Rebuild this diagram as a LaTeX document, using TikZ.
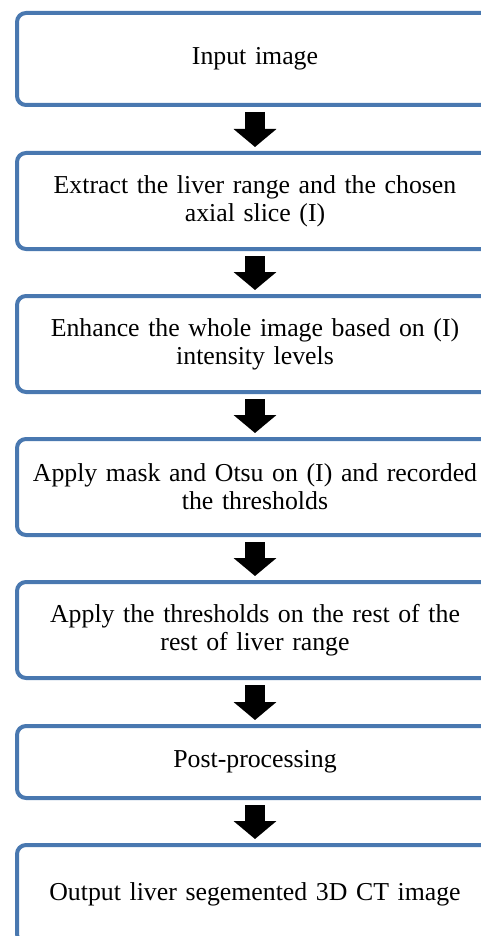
\documentclass[tikz,border=0pt]{standalone}
\usepackage{fontspec}
\setmainfont{Liberation Serif}
\usetikzlibrary{arrows.meta}
\definecolor{boxblue}{RGB}{73,120,176}
\tikzset{
  stepbox/.style={draw=boxblue, line width=4pt, rounded corners=9pt, fill=white,
    minimum width=476pt, text width=470pt, align=center, inner sep=0pt,
    font=\fontsize{25.8}{27.7}\selectfont, outer sep=auto},
  flowarrow/.style={line width=20.7pt, -{Triangle[width=42pt,length=18pt]},
    shorten <=5pt, shorten >=4pt}
}
\begin{document}
\begin{tikzpicture}[x=1pt,y=-1pt]
\useasboundingbox (0,0) rectangle (481,936);
\clip (0,0) rectangle (481,936);
\node[stepbox, minimum height=92pt] (b1) at (255,59) {Input image};
\node[stepbox, minimum height=96pt] (b2) at (255,201) {Extract the liver range and the chosen\\ axial slice (I)};
\node[stepbox, minimum height=96pt] (b3) at (255,344) {Enhance the whole image based on (I)\\ intensity levels};
\node[stepbox, minimum height=96pt] (b4) at (255,487) {Apply mask and Otsu on (I) and recorded\\ the thresholds};
\node[stepbox, minimum height=96pt] (b5) at (255,630) {Apply the thresholds on the rest of the\\ rest of liver range};
\node[stepbox, minimum height=72pt] (b6) at (255,762) {Post-processing};
\node[stepbox, minimum height=98pt] (b7) at (255,894) {Output liver segemented 3D CT image};
\foreach \a/\b in {b1/b2,b2/b3,b3/b4,b4/b5,b5/b6,b6/b7}
  \draw[flowarrow] (\a.south) -- (\b.north);
\end{tikzpicture}
\end{document}
